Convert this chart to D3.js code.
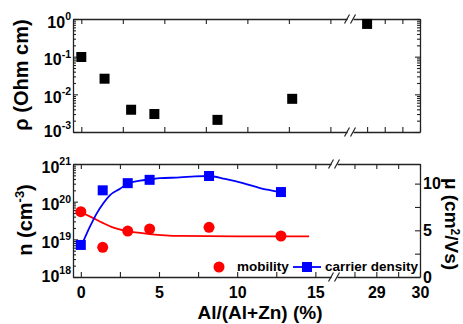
<!DOCTYPE html>
<html>
<head>
<meta charset="utf-8">
<script src="https://cdn.jsdelivr.net/npm/d3@7"></script>
<style>
  body { margin: 0; background: #fff; }
  svg text { font-family: "Liberation Sans", Arial, Helvetica, sans-serif; font-weight: bold; fill: #000; }
</style>
</head>
<body>
<svg id="chart" width="463" height="324"></svg>
<script>
// Al/(Al+Zn) content (%) and resistivity (Ohm cm)
const rhoContent = [0, 1.4, 3, 4.4, 8.2, 12.7, 28.5];
const resistivity = [0.098, 0.026, 0.0039, 0.003, 0.0021, 0.0076, 0.74];

// Hall data
const hallContent = [0, 1.4, 3, 4.4, 8.2, 12.8];
const carrierDensity = [7.1e18, 2.0e20, 3.1e20, 3.8e20, 4.8e20, 1.8e20];
const mobility = [6.99, 3.18, 4.92, 5.14, 5.32, 4.39];

// guide curves
const mobilityFitX = [0, 0.8, 1.4, 2, 3, 4.4, 6.3, 10, 14.6];
const mobilityFitY = [6.95, 6.3, 5.8, 5.35, 4.9, 4.6, 4.4, 4.35, 4.35];
const densityFitX = [0.06, 0.59, 1.02, 1.44, 1.87, 2.51, 3.04, 3.79, 4.43, 5.06, 6.34, 7.3, 8.2, 9.22, 10.37, 11.46, 12.8];
const densityFitY = [7.1e18, 2.2e19, 4.9e19, 9.1e19, 1.5e20, 2.2e20, 3.1e20, 3.6e20, 3.9e20, 4.2e20, 4.4e20, 4.7e20, 4.8e20, 4.0e20, 3.1e20, 2.3e20, 1.8e20];

// ticks and labels
const xTicksLeft = [0, 2.5, 5, 7.5, 10, 12.5, 15];
const xTicksRight = [28.5, 29, 29.5, 30];
const xTickLabels = [0, 5, 10, 15, 29, 30];
const rhoDecades = [1e-3, 1e-2, 1e-1, 1];
const nDecades = [1e18, 1e19, 1e20, 1e21];
const muTicks = [0, 2.5, 5, 7.5, 10];
const muTickLabels = [0, 5, 10];

const svg = d3.select('#chart');
const axisColor = '#222';
const red = '#ff0000';
const blue = '#0000ff';

// layout
const left = 73;
const right = 420;
const topP = {y0: 19, y1: 132, gap: [347, 353]};
const botP = {y0: 164, y1: 277, gap: [331, 337]};
const xSplit = 20;

// scales - each panel has a broken x axis
const xTopL = d3.scaleLinear().domain([-0.5, 16]).range([left, topP.gap[0]]);
const xTopR = d3.scaleLinear().domain([28.1, 30]).range([topP.gap[1], right]);
const xBotL = d3.scaleLinear().domain([-0.5, 16]).range([left, botP.gap[0]]);
const xBotR = d3.scaleLinear().domain([28.1, 30]).range([botP.gap[1], right]);
const xTop = d => d < xSplit ? xTopL(d) : xTopR(d);
const xBot = d => d < xSplit ? xBotL(d) : xBotR(d);

const yRho = d3.scaleLog().domain([1e-3, 1]).range([topP.y1, topP.y0]);
const yN = d3.scaleLog().domain([1e18, 1e21]).range([botP.y1, botP.y0]);
const yMu = d3.scaleLinear().domain([0, 12.1]).range([botP.y1, botP.y0]);

const isDecade = d => Math.abs(Math.log10(d) - Math.round(Math.log10(d))) < 1e-6;

function styleAxis(g) {
  g.select('.domain').attr('stroke', axisColor).attr('stroke-width', 1.3);
  g.selectAll('.tick line').attr('stroke', axisColor).attr('stroke-width', 1.1);
  g.attr('font-family', null).attr('font-size', 16);
}

// x axes (top and bottom of a panel, two segments each)
function drawXAxes(scL, scR, panel, withLabels) {
  [[scL, xTicksLeft], [scR, xTicksRight]].forEach(([sc, tv]) => {
    const gb = svg.append('g')
      .attr('transform', 'translate(0,' + panel.y1 + ')')
      .call(d3.axisBottom(sc).tickValues(tv).tickSizeInner(-5).tickSizeOuter(0).tickPadding(10)
        .tickFormat(d => withLabels && xTickLabels.includes(d) ? d : ''));
    styleAxis(gb);
    const gt = svg.append('g')
      .attr('transform', 'translate(0,' + panel.y0 + ')')
      .call(d3.axisTop(sc).tickValues(tv).tickSizeInner(-5).tickSizeOuter(0).tickFormat(''));
    styleAxis(gt);
  });
}

// log y axis with minor ticks
function drawLogAxis(scale, x, side) {
  const ax = side === 'left' ? d3.axisLeft(scale) : d3.axisRight(scale);
  const g = svg.append('g')
    .attr('transform', 'translate(' + x + ',0)')
    .call(ax.tickValues(scale.ticks()).tickSizeInner(-5).tickSizeOuter(0).tickFormat(''));
  styleAxis(g);
  const k = side === 'left' ? 1 : -1;
  g.selectAll('.tick line').attr('x2', d => k * (isDecade(d) ? 5 : 3));
  return g;
}

// power-of-ten labels
function drawDecadeLabels(scale, values, bottom) {
  svg.append('g').selectAll('text')
    .data(values)
    .join('text')
    .attr('x', left - 2)
    .attr('y', d => Math.min(scale(d) + 8.5, bottom + 4.5))
    .attr('text-anchor', 'end')
    .attr('font-size', 16)
    .each(function (d) {
      const t = d3.select(this);
      t.append('tspan').text('10');
      t.append('tspan').attr('dy', -7.5).attr('font-size', 10.5).text(Math.round(Math.log10(d)));
    });
}

function drawBreak(panel) {
  [panel.y0, panel.y1].forEach(y => {
    panel.gap.forEach(cx => {
      svg.append('line')
        .attr('x1', cx - 2.5).attr('y1', y + 4.5)
        .attr('x2', cx + 2.5).attr('y2', y - 4.5)
        .attr('stroke', axisColor).attr('stroke-width', 1.2);
    });
  });
}

// ---- top panel: resistivity
drawXAxes(xTopL, xTopR, topP, false);
drawLogAxis(yRho, left, 'left');
drawLogAxis(yRho, right, 'right');
drawDecadeLabels(yRho, rhoDecades, topP.y1);
drawBreak(topP);

svg.append('g').selectAll('rect')
  .data(rhoContent.map((c, i) => ({c: c, v: resistivity[i]})))
  .join('rect')
  .attr('x', d => xTop(d.c) - 5)
  .attr('y', d => yRho(d.v) - 5)
  .attr('width', 10)
  .attr('height', 10)
  .attr('fill', '#000');

// ---- bottom panel: carrier density + mobility
drawXAxes(xBotL, xBotR, botP, true);
drawLogAxis(yN, left, 'left');
drawDecadeLabels(yN, nDecades, botP.y1);

const gMu = svg.append('g')
  .attr('transform', 'translate(' + right + ',0)')
  .call(d3.axisRight(yMu).tickValues(muTicks).tickSizeInner(-5).tickSizeOuter(0).tickPadding(4)
    .tickFormat(d => muTickLabels.includes(d) ? d : ''));
styleAxis(gMu);
gMu.selectAll('.tick text').attr('x', 3);
drawBreak(botP);

// fit lines
const mobilityLine = d3.line()
  .x(d => xBot(d[0]))
  .y(d => yMu(d[1]))
  .curve(d3.curveMonotoneX);
svg.append('path')
  .attr('d', mobilityLine(mobilityFitX.map((x, i) => [x, mobilityFitY[i]])))
  .attr('fill', 'none')
  .attr('stroke', red)
  .attr('stroke-width', 1.8);

const densityLine = d3.line()
  .x(d => xBot(d[0]))
  .y(d => yN(d[1]))
  .curve(d3.curveMonotoneX);
svg.append('path')
  .attr('d', densityLine(densityFitX.map((x, i) => [x, densityFitY[i]])))
  .attr('fill', 'none')
  .attr('stroke', blue)
  .attr('stroke-width', 1.8);

// points
svg.append('g').selectAll('circle')
  .data(hallContent.map((c, i) => ({c: c, v: mobility[i]})))
  .join('circle')
  .attr('cx', d => xBot(d.c))
  .attr('cy', d => yMu(d.v))
  .attr('r', 5.5)
  .attr('fill', red);

svg.append('g').selectAll('rect')
  .data(hallContent.map((c, i) => ({c: c, v: carrierDensity[i]})))
  .join('rect')
  .attr('x', d => xBot(d.c) - 5)
  .attr('y', d => yN(d.v) - 5)
  .attr('width', 10)
  .attr('height', 10)
  .attr('fill', blue);

// legend
const legend = svg.append('g');
legend.append('circle').attr('cx', 219).attr('cy', 267).attr('r', 5.5).attr('fill', red);
legend.append('text').attr('x', 237).attr('y', 271).attr('font-size', 13.5).text('mobility');
legend.append('line').attr('x1', 293).attr('x2', 321).attr('y1', 267).attr('y2', 267)
  .attr('stroke', blue).attr('stroke-width', 1.8);
legend.append('rect').attr('x', 302).attr('y', 262).attr('width', 10).attr('height', 10).attr('fill', blue);
legend.append('text').attr('x', 325).attr('y', 271).attr('font-size', 13.5).text('carrier density');

// axis titles
svg.append('text')
  .attr('transform', 'translate(28,75) rotate(-90)')
  .attr('text-anchor', 'middle')
  .attr('font-size', 20)
  .text('ρ (Ohm cm)');

const nTitle = svg.append('text')
  .attr('transform', 'translate(32,220) rotate(-90)')
  .attr('text-anchor', 'middle')
  .attr('font-size', 20);
nTitle.append('tspan').text('n (cm');
nTitle.append('tspan').attr('dy', -8).attr('font-size', 13).text('-3');
nTitle.append('tspan').attr('dy', 8).text(')');

const muTitle = svg.append('text')
  .attr('transform', 'translate(445,224) rotate(90)')
  .attr('text-anchor', 'middle')
  .attr('font-size', 19);
muTitle.append('tspan').text('μ (cm');
muTitle.append('tspan').attr('dy', -6).attr('font-size', 12).text('2');
muTitle.append('tspan').attr('dy', 6).text('/Vs)');

svg.append('text')
  .attr('x', 260)
  .attr('y', 319)
  .attr('text-anchor', 'middle')
  .attr('font-size', 19)
  .text('Al/(Al+Zn) (%)');
</script>
</body>
</html>
